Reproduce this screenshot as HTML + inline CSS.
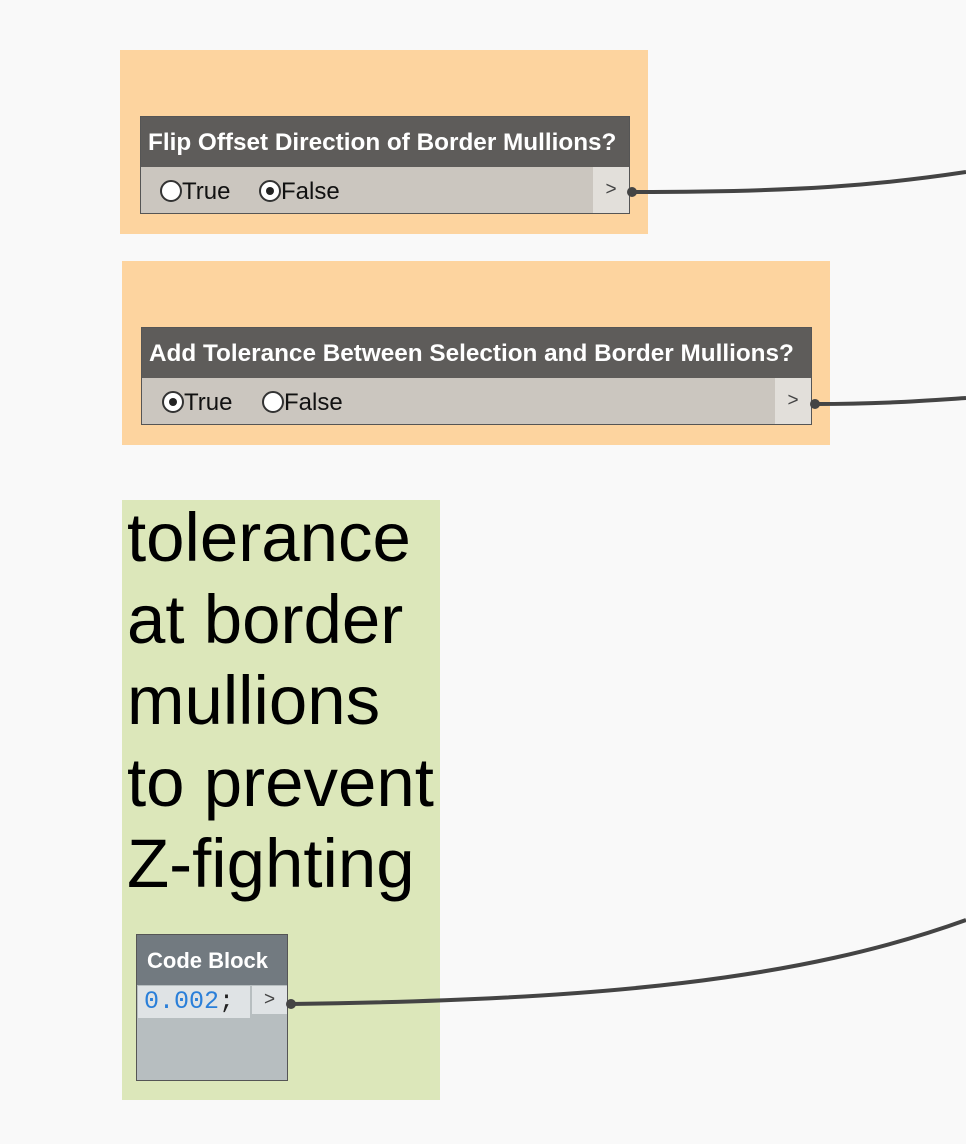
<!DOCTYPE html>
<html><head><meta charset="utf-8"><style>
body{margin:0;width:966px;height:1144px;background:#f9f9f9;position:relative;overflow:hidden;font-family:"Liberation Sans",sans-serif}
.a{position:absolute;box-sizing:border-box}
.grp{background:#fdd49f}
.node{border:1px solid #555;overflow:hidden}
.hd{background:#5e5c5a;color:#fff;font-weight:bold;font-size:24.3px;padding-left:7px;line-height:52px;height:50px;white-space:nowrap}
.bd{background:#cbc6bf;font-size:24px;color:#111}
.rb{display:inline-block;width:22px;height:22px;border:2px solid #333;border-radius:50%;background:#fff;box-sizing:border-box;vertical-align:-3px;position:relative}
.rb.on::after{content:"";position:absolute;left:5px;top:5px;width:8px;height:8px;border-radius:50%;background:#222}
.port{background:#e2dfda;color:#444;font-size:19px;text-align:center}
</style></head><body>

<div class="a grp" style="left:120px;top:50px;width:528px;height:184px"></div>
<div class="a node" style="left:140px;top:116px;width:490px;height:98px">
 <div class="hd">Flip Offset Direction of Border Mullions?</div>
 <div class="bd" style="height:46px;position:relative">
  <span class="a" style="left:19px;top:11px"><span class="rb"></span>True</span>
  <span class="a" style="left:118px;top:11px"><span class="rb on"></span>False</span>
  <div class="a port" style="right:0;top:0;width:36px;height:46px;line-height:46px">&gt;</div>
 </div>
</div>

<div class="a grp" style="left:122px;top:261px;width:708px;height:184px"></div>
<div class="a node" style="left:141px;top:327px;width:671px;height:98px">
 <div class="hd">Add Tolerance Between Selection and Border Mullions?</div>
 <div class="bd" style="height:46px;position:relative">
  <span class="a" style="left:20px;top:11px"><span class="rb on"></span>True</span>
  <span class="a" style="left:120px;top:11px"><span class="rb"></span>False</span>
  <div class="a port" style="right:0;top:0;width:36px;height:46px;line-height:46px">&gt;</div>
 </div>
</div>

<div class="a" style="left:122px;top:500px;width:318px;height:600px;background:#dce7ba"></div>
<div class="a" style="left:127px;top:497px;font-size:69px;line-height:81.5px;color:#000;white-space:nowrap">tolerance<br>at border<br>mullions<br>to prevent<br>Z-fighting</div>

<div class="a node" style="left:136px;top:934px;width:152px;height:147px;background:#b7bec0">
 <div class="hd" style="background:#727a80;padding-left:10px;font-size:22px">Code Block</div>
 <div class="a" style="left:1px;top:51px;width:112px;height:32px;background:#dfe3e5;font-family:'Liberation Mono',monospace;font-size:25px;line-height:32px;padding-left:6px;color:#2a7fd9">0.002<span style="color:#222">;</span></div>
 <div class="a port" style="left:115px;top:51px;width:35px;height:28px;line-height:28px;background:#dfe3e5">&gt;</div>
</div>

<svg class="a" style="left:0;top:0" width="966" height="1144">
<g fill="none" stroke="#444" stroke-width="4">
<path d="M632 192 C800 192 880 185 966 172"/>
<path d="M815 404 C880 404 920 401 966 398"/>
<path d="M291 1004 C600 1000 800 980 966 920"/>
</g>
<g fill="#444"><circle cx="632" cy="192" r="5"/><circle cx="815" cy="404" r="5"/><circle cx="291" cy="1004" r="5"/></g>
</svg>
</body></html>
